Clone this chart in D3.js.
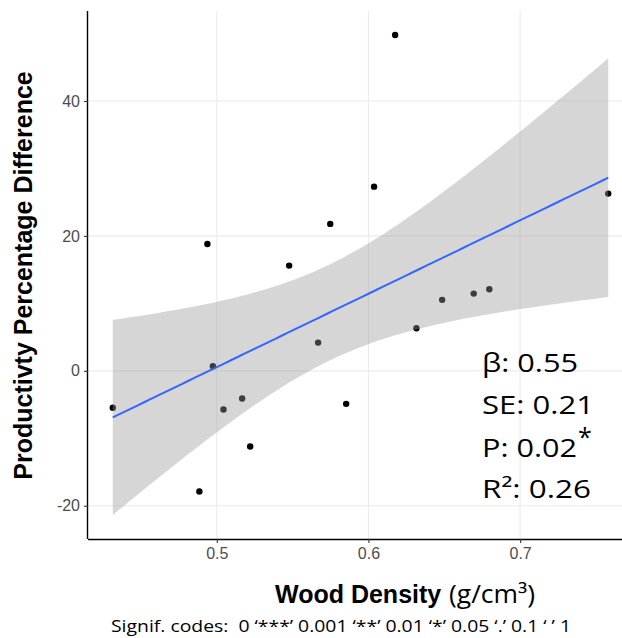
<!DOCTYPE html>
<html>
<head>
<meta charset="utf-8">
<script src="https://cdn.jsdelivr.net/npm/d3@7"></script>
<style>
  html, body { margin: 0; padding: 0; background: #fff; }
  svg { display: block; }
</style>
</head>
<body>
<svg id="chart" width="622" height="638"></svg>
<script>
// ---- data ----
const woodDensity = [0.4314, 0.4885, 0.4938, 0.4974, 0.5044, 0.5167, 0.5220, 0.5477, 0.5668,
                     0.5748, 0.5853, 0.6037, 0.6176, 0.6316, 0.6486, 0.6694, 0.6797, 0.7581];
const productivityDiff = [-5.48, -17.88, 18.81, 0.68, -5.73, -4.10, -11.21, 15.60, 4.19,
                          21.78, -4.89, 27.30, 49.78, 6.31, 10.52, 11.45, 12.09, 26.27];
const xTicks = [0.5, 0.6, 0.7];
const yTicks = [-20, 0, 20, 40];
const statLines = ["β: 0.55", "SE: 0.21", "P: 0.02", "R²: 0.26"];
const signifCaption = "Signif. codes:  0 ‘***’ 0.001 ‘**’ 0.01 ‘*’ 0.05 ‘.’ 0.1 ‘ ’ 1";
const tCrit = 2.119905; // t(0.975, df = 16)

// ---- linear fit (lm) with 95% confidence band ----
const n = woodDensity.length;
const mx = d3.mean(woodDensity), my = d3.mean(productivityDiff);
let sxx = 0, sxy = 0;
for (let i = 0; i < n; i++) {
  sxx += (woodDensity[i] - mx) ** 2;
  sxy += (woodDensity[i] - mx) * (productivityDiff[i] - my);
}
const slope = sxy / sxx, intercept = my - slope * mx;
let rss = 0;
for (let i = 0; i < n; i++) rss += (productivityDiff[i] - (intercept + slope * woodDensity[i])) ** 2;
const sigma = Math.sqrt(rss / (n - 2));
const [xMin, xMax] = d3.extent(woodDensity);
const fit = d3.range(80).map(k => {
  const xv = xMin + (xMax - xMin) * k / 79;
  const yv = intercept + slope * xv;
  const se = sigma * Math.sqrt(1 / n + (xv - mx) ** 2 / sxx);
  return { x: xv, y: yv, lo: yv - tCrit * se, hi: yv + tCrit * se };
});

// ---- scales ----
const padL = 88, padT = 11, padB = 539, plotW = 545;
const xr = xMax - xMin;
const x = d3.scaleLinear().domain([xMin - 0.05 * xr, xMax + 0.05 * xr]).range([padL, padL + plotW]);
const yLo = Math.min(d3.min(fit, d => d.lo), d3.min(productivityDiff));
const yHi = Math.max(d3.max(fit, d => d.hi), d3.max(productivityDiff));
const yr = yHi - yLo;
const y = d3.scaleLinear().domain([yLo - 0.05 * yr, yHi + 0.05 * yr]).range([padB, padT]);

const svg = d3.select("#chart");

// grid
const grid = svg.append("g");
grid.selectAll("line.gx").data(xTicks).join("line")
  .attr("x1", d => x(d)).attr("x2", d => x(d)).attr("y1", padT).attr("y2", padB)
  .attr("stroke", "#EBEBEB").attr("stroke-width", 1.1);
grid.selectAll("line.gy").data(yTicks).join("line")
  .attr("x1", padL).attr("x2", padL + plotW).attr("y1", d => y(d)).attr("y2", d => y(d))
  .attr("stroke", "#EBEBEB").attr("stroke-width", 1.1);

// points (drawn beneath the ribbon, as in the reference)
svg.append("g").selectAll("circle").data(woodDensity.map((d, i) => [d, productivityDiff[i]])).join("circle")
  .attr("cx", d => x(d[0])).attr("cy", d => y(d[1])).attr("r", 3.2).attr("fill", "#000");

// ribbon
svg.append("path").datum(fit)
  .attr("d", d3.area().x(d => x(d.x)).y0(d => y(d.lo)).y1(d => y(d.hi)))
  .attr("fill", "#999999").attr("fill-opacity", 0.4);

// fit line
svg.append("path").datum(fit)
  .attr("d", d3.line().x(d => x(d.x)).y(d => y(d.y)))
  .attr("fill", "none").attr("stroke", "#3366FF").attr("stroke-width", 2);

// axes
const xAxis = svg.append("g").attr("transform", `translate(0,${padB})`)
  .call(d3.axisBottom(x).tickValues(xTicks).tickFormat(d3.format(".1f")).tickSizeOuter(0).tickSize(4).tickPadding(5));
const yAxis = svg.append("g").attr("transform", `translate(${padL},0)`)
  .call(d3.axisLeft(y).tickValues(yTicks).tickFormat(d => String(d)).tickSizeOuter(0).tickSize(4).tickPadding(4));
[xAxis, yAxis].forEach(g => {
  g.select(".domain").attr("stroke", "#000").attr("stroke-width", 1.4);
  g.selectAll(".tick line").attr("stroke", "#333").attr("stroke-width", 1.1);
  g.selectAll(".tick text").attr("fill", "#4D4D4D").attr("font-size", 16)
    .attr("font-family", "Liberation Sans, Arial, sans-serif");
});
xAxis.select(".domain").attr("d", `M${padL},0.5H${padL + plotW}`);
yAxis.select(".domain").attr("d", `M-0.5,${padT}V${padB}`);

// axis titles
svg.append("text")
  .attr("transform", `translate(32,${(68 + 483) / 2}) rotate(-90)`)
  .attr("text-anchor", "middle")
  .attr("font-family", "Liberation Sans, Arial, sans-serif").attr("font-weight", "bold").attr("font-size", 25)
  .attr("fill", "#000")
  .text("Productivty Percentage Difference");

svg.append("text").attr("x", 275).attr("y", 603)
  .attr("font-family", "Liberation Sans, Arial, sans-serif").attr("font-weight", "bold").attr("font-size", 25)
  .attr("fill", "#000").text("Wood Density");
svg.append("text").attr("x", 449).attr("y", 603)
  .attr("font-family", "Open Sans, sans-serif").attr("font-size", 25)
  .attr("textLength", 86).attr("lengthAdjust", "spacingAndGlyphs")
  .attr("fill", "#000").text("(g/cm³)");

// caption
svg.append("text").attr("x", 111).attr("y", 632)
  .style("white-space", "pre")
  .attr("font-family", "Open Sans, sans-serif").attr("font-size", 16)
  .attr("textLength", 460).attr("lengthAdjust", "spacingAndGlyphs")
  .attr("fill", "#000").text(signifCaption);

// stats annotation
const statWidths = [96, 112, 95, 109];
const statBase = [371.7, 413.5, 456.5, 498.3];
svg.append("g").selectAll("text").data(statLines).join("text")
  .attr("x", 482).attr("y", (d, i) => statBase[i])
  .attr("font-family", "Open Sans, sans-serif").attr("font-size", 26)
  .attr("textLength", (d, i) => statWidths[i]).attr("lengthAdjust", "spacingAndGlyphs")
  .attr("fill", "#000").text(d => d);
svg.append("text").attr("x", 578).attr("y", 446)
  .attr("font-family", "Open Sans, sans-serif").attr("font-size", 25)
  .attr("fill", "#000").text("*");
</script>
</body>
</html>
